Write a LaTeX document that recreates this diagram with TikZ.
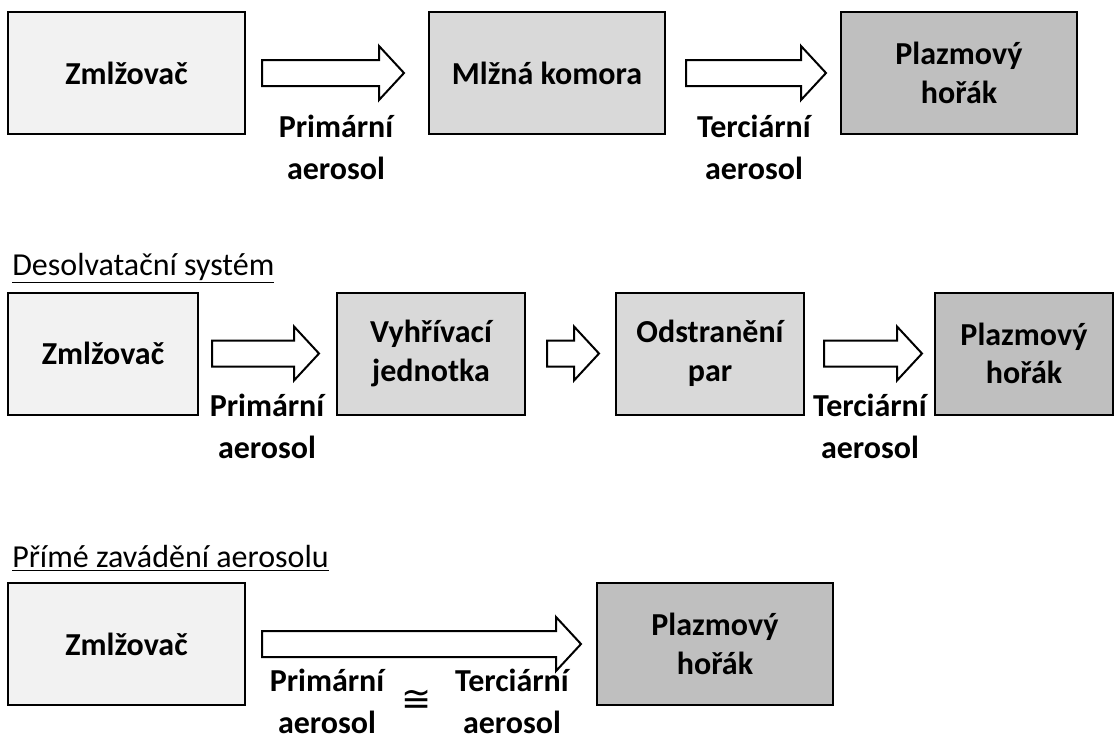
\documentclass[tikz,border=0pt]{standalone}
\usepackage{fontspec}
\setmainfont{Carlito}
\newfontfamily\symfont{DejaVu Sans}
\usetikzlibrary{calc}

\definecolor{lightbox}{HTML}{F2F2F2}
\definecolor{midbox}{HTML}{D9D9D9}
\definecolor{darkbox}{HTML}{BFBFBF}

\tikzset{
  box/.style={draw, line width=1.5pt, align=center, minimum height=91.5pt,
    font=\fontsize{24}{29}\selectfont\bfseries},
  flowtext/.style={align=center, inner sep=0pt, font=\fontsize{24}{31.5}\selectfont\bfseries},
  heading/.style={anchor=west, inner sep=0pt, font=\fontsize{24}{29}\selectfont},
  fatarrow/.style={line width=1.5pt, fill=white, line join=miter,
    to path={let \p1=(\tikztostart), \p2=(\tikztotarget) in
      (\x1,\y1+9.75pt) -- (\x2-18.75pt,\y1+9.75pt) -- (\x2-18.75pt,\y1+20.25pt) -- (\x2,\y1)
      -- (\x2-18.75pt,\y1-20.25pt) -- (\x2-18.75pt,\y1-9.75pt) -- (\x1,\y1-9.75pt) -- cycle}}
}

\begin{document}
\begin{tikzpicture}[x=0.75pt,y=-0.75pt]
\useasboundingbox (0,0) rectangle (1116,740);

% bez desolvatace
\node[box, fill=lightbox, minimum width=177.75pt] (zml1) at (126.5,73) {Zmlžovač};
\node[box, fill=midbox, minimum width=177pt] (mlz) at (547,73) {Mlžná komora};
\node[box, fill=darkbox, minimum width=177pt] (plaz1) at (959,73) {Plazmový\\hořák};
\draw[fatarrow] ([xshift=12pt]zml1.east) to ([xshift=-18pt]mlz.west);
\draw[fatarrow] ([xshift=15pt]mlz.east) to ([xshift=-10.5pt]plaz1.west);
\node[flowtext] (prim1) at (336,147) {Primární\\aerosol};
\node[flowtext] (terc1) at (754,147) {Terciární\\aerosol};

% desolvatacni system
\node[heading] (hdes) at (12,268) {\underline{Desolvatační systém}};
\node[box, fill=lightbox, minimum width=142.5pt] (zml2) at (103,353.5) {Zmlžovač};
\node[box, fill=midbox, minimum width=141pt] (vyh) at (431,353.5) {Vyhřívací\\jednotka};
\node[box, fill=midbox, minimum width=141pt] (odst) at (710,353.5) {Odstranění\\par};
\node[box, fill=darkbox, minimum width=133.5pt] (plaz2) at (1024,353.5) {Plazmový\\hořák};
\draw[fatarrow] ([xshift=9.75pt]zml2.east) to ([xshift=-12.75pt]vyh.west);
\draw[fatarrow] ([xshift=15.75pt]vyh.east) to ([xshift=-12pt]odst.west);
\draw[fatarrow] ([xshift=14.25pt]odst.east) to ([xshift=-9pt]plaz2.west);
\node[flowtext] (prim2) at (267,426) {Primární\\aerosol};
\node[flowtext] (terc2) at (870,426) {Terciární\\aerosol};

% prime zavadeni
\node[heading] (hpri) at (12,558) {\underline{Přímé zavádění aerosolu}};
\node[box, fill=lightbox, minimum width=177.75pt] (zml3) at (126.5,644) {Zmlžovač};
\node[box, fill=darkbox, minimum width=177pt] (plaz3) at (715,644) {Plazmový\\hořák};
\draw[fatarrow] ([xshift=12pt]zml3.east) to ([xshift=-11.25pt]plaz3.west);
\node[flowtext] (prim3) at (327,701) {Primární\\aerosol};
\node[flowtext] (terc3) at (512,701) {Terciární\\aerosol};
\node[font=\fontsize{27}{27}\symfont, inner sep=0pt] (eq) at (417,701) {≅};
\end{tikzpicture}
\end{document}
